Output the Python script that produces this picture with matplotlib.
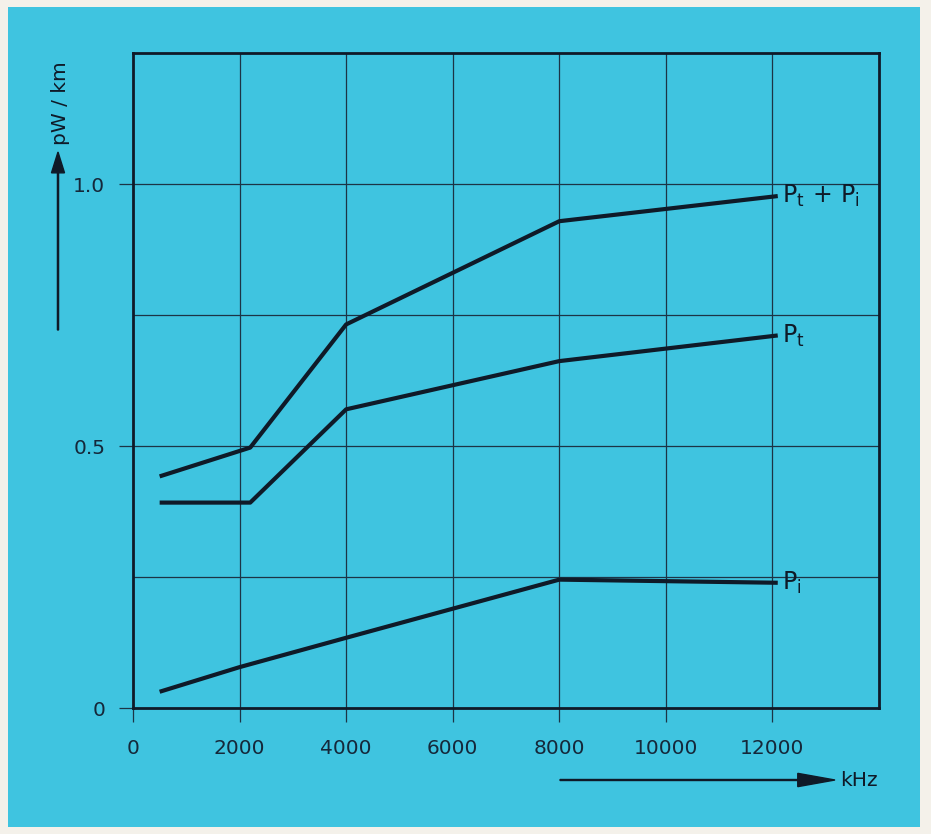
import matplotlib
matplotlib.use("Agg")
import matplotlib.pyplot as plt
from matplotlib.patches import Rectangle, FancyArrow

# Data (frequency in kHz, power in pW/km)
freq_sum = [500, 2200, 4000, 8000, 12100]
p_sum = [0.442, 0.497, 0.732, 0.929, 0.977]

freq_t = [500, 2200, 4000, 8000, 12100]
p_t = [0.392, 0.392, 0.570, 0.662, 0.711]

freq_i = [500, 2000, 4000, 8000, 12100]
p_i = [0.031, 0.078, 0.134, 0.245, 0.239]

x_ticks = [0, 2000, 4000, 6000, 8000, 10000, 12000]
y_ticks = [0, 0.5, 1.0]
y_tick_labels = ["0", "0.5", "1.0"]
y_grid = [0.25, 0.5, 0.75, 1.0]

W, H = 931, 834
bg = "#3fc4e0"
ink = "#0f1a28"
grid_c = "#1c3446"

fig = plt.figure(figsize=(W / 100, H / 100), dpi=100)
fig.patch.set_facecolor("#f4f1ea")
fig.patches.append(Rectangle((8 / W, 7 / H), (920 - 8) / W, (827 - 7) / H,
                             transform=fig.transFigure, facecolor=bg,
                             edgecolor="none", zorder=-10))

left, right, top, bottom = 133, 879, 53, 708
ax = fig.add_axes([left / W, 1 - bottom / H, (right - left) / W, (bottom - top) / H])
ax.set_facecolor(bg)
ax.set_xlim(0, 14000)
ax.set_ylim(0, 1.25)

for xv in x_ticks[1:]:
    ax.axvline(xv, color=grid_c, lw=0.9, zorder=1)
for yv in y_grid:
    ax.axhline(yv, color=grid_c, lw=0.9, zorder=1)

lw = 3.0
ax.plot(freq_sum, p_sum, color=ink, lw=lw, solid_capstyle="butt", zorder=3)
ax.plot(freq_t, p_t, color=ink, lw=lw, solid_capstyle="butt", zorder=3)
ax.plot(freq_i, p_i, color=ink, lw=lw, solid_capstyle="butt", zorder=3)

for s in ax.spines.values():
    s.set_color(ink)
    s.set_linewidth(2.0)

ax.set_xticks(x_ticks)
ax.set_xticklabels([str(v) for v in x_ticks])
ax.set_yticks(y_ticks)
ax.set_yticklabels(y_tick_labels)
ax.tick_params(axis="both", direction="out", length=10, width=0.9,
               color=grid_c, labelsize=14.5, labelcolor="#15283a", pad=10)
ax.tick_params(axis="x", pad=12)

# Curve labels
fs = 17
ax.text(12180, p_sum[-1], r"$\mathregular{P_t\,+\,P_i}$",
        fontsize=fs, color=ink, va="center", ha="left", zorder=4)
ax.text(12180, p_t[-1], r"$\mathregular{P_t}$", fontsize=fs, color=ink,
        va="center", ha="left", zorder=4)
ax.text(12180, p_i[-1], r"$\mathregular{P_i}$", fontsize=fs, color=ink,
        va="center", ha="left", zorder=4)

# Axis unit labels with arrows (figure coordinates)
def fx(px):
    return px / W

def fy(py):
    return 1 - py / H

fig.patches.append(FancyArrow(
    fx(58), fy(330), 0, fy(152) - fy(330), width=0.0012, head_width=0.014,
    head_length=0.025, length_includes_head=True, color=ink,
    transform=fig.transFigure, zorder=5))
fig.text(fx(61), fy(103), "pW / km", rotation=90, fontsize=14.5, color=ink,
         ha="center", va="center")

fig.patches.append(FancyArrow(
    fx(560), fy(780), fx(835) - fx(560), 0, width=0.0012, head_width=0.016,
    head_length=0.04, length_includes_head=True, color=ink,
    transform=fig.transFigure, zorder=5))
fig.text(fx(840), fy(780), "kHz", fontsize=14.5, color=ink, ha="left", va="center")

fig.savefig("out.png", dpi=100, facecolor=fig.get_facecolor())
